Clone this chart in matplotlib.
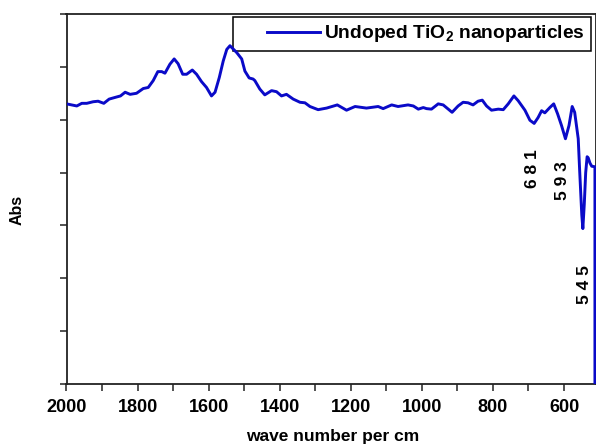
import matplotlib
matplotlib.use("Agg")
import matplotlib.pyplot as plt
from matplotlib.ticker import MultipleLocator, NullFormatter
from matplotlib.legend_handler import HandlerLine2D

plt.rcParams['font.family'] = ['Liberation Sans', 'DejaVu Sans']
plt.rcParams['font.weight'] = 'bold'
plt.rcParams['mathtext.fontset'] = 'custom'
plt.rcParams['mathtext.rm'] = 'Liberation Sans:bold'
plt.rcParams['mathtext.bf'] = 'Liberation Sans:bold'

# FTIR spectrum (wave number per cm, Abs in tick units)
wavenumber = [2000, 1971, 1957, 1943, 1925, 1911, 1895, 1880, 1859, 1848, 1835, 1821,
              1803, 1784, 1770, 1756, 1743, 1732, 1723, 1709, 1697, 1686, 1673, 1662,
              1646, 1634, 1620, 1606, 1592, 1582, 1570, 1559, 1549, 1540, 1521, 1507,
              1498, 1486, 1475, 1470, 1456, 1442, 1423, 1409, 1395, 1381, 1362, 1343,
              1329, 1315, 1292, 1268, 1238, 1212, 1188, 1156, 1123, 1109, 1085, 1067,
              1039, 1024, 1010, 996, 987, 973, 954, 940, 915, 898, 884, 870, 856, 842,
              830, 818, 804, 785, 771, 757, 741, 729, 710, 696, 684, 673, 663, 654,
              640, 629, 618, 607, 596, 586, 577, 570, 560, 556, 550, 547, 543, 539,
              535, 532, 527, 522, 513, 513]
absorb = [5.30, 5.26, 5.31, 5.31, 5.34, 5.35, 5.31, 5.39, 5.43, 5.45, 5.52, 5.48,
          5.50, 5.59, 5.61, 5.74, 5.91, 5.91, 5.88, 6.05, 6.15, 6.06, 5.86, 5.86,
          5.94, 5.86, 5.72, 5.61, 5.45, 5.52, 5.80, 6.11, 6.33, 6.40, 6.27, 6.15,
          5.92, 5.79, 5.77, 5.74, 5.58, 5.47, 5.55, 5.53, 5.45, 5.48, 5.39, 5.33,
          5.32, 5.25, 5.19, 5.22, 5.28, 5.18, 5.25, 5.22, 5.25, 5.21, 5.28, 5.25,
          5.28, 5.26, 5.20, 5.23, 5.21, 5.20, 5.30, 5.28, 5.14, 5.26, 5.33, 5.32, 5.28, 5.35,
          5.37, 5.26, 5.18, 5.20, 5.19, 5.30, 5.45, 5.36, 5.18, 4.99, 4.93, 5.04, 5.17, 5.13,
          5.23, 5.30, 5.11, 4.89, 4.64, 4.89, 5.25, 5.14, 4.64, 4.04, 3.20, 2.94, 3.40, 4.00,
          4.30, 4.28, 4.18, 4.12, 4.11, -1.0]

peak_labels = ['6 8 1', '5 9 3', '5 4 5']
peak_pos = [(690, 4.08), (604, 3.85), (541, 1.89)]

fig = plt.figure(figsize=(5.96, 4.44), dpi=100)
ax = fig.add_axes([66.5 / 596, 60 / 444, 529.5 / 596, 370 / 444])

line, = ax.plot(wavenumber, absorb, color='#0a0ac8', lw=2.1, zorder=6,
                solid_joinstyle='round', label=r'Undoped TiO$_{2}$ nanoparticles')

ax.set_xlim(2000, 510)
ax.set_ylim(0, 7)
ax.xaxis.set_major_locator(MultipleLocator(200))
ax.xaxis.set_minor_locator(MultipleLocator(100))
ax.yaxis.set_major_locator(MultipleLocator(1))
ax.yaxis.set_major_formatter(NullFormatter())
ax.tick_params(axis='both', which='both', direction='out', length=5, width=1.1,
               color='#222222')
ax.tick_params(axis='x', labelsize=13, pad=6)
for lab in ax.get_xticklabels():
    lab.set_fontweight('bold')
for s in ax.spines.values():
    s.set_linewidth(1.3)
    s.set_color('#222222')

for txt, (x, y) in zip(peak_labels, peak_pos):
    ax.text(x, y, txt, rotation=90, ha='center', va='center', fontsize=12.5,
            fontweight='bold')

leg = ax.legend(loc='upper right', bbox_to_anchor=(0.9906, 0.992), borderaxespad=0,
                fontsize=13.9, handlelength=4.2, handletextpad=0.2, borderpad=0.33,
                fancybox=False, framealpha=1, edgecolor='black',
                handler_map={line: HandlerLine2D(xpad=1.45)})
leg.get_frame().set_linewidth(1.1)
leg.set_zorder(5)
for t in leg.get_texts():
    t.set_fontweight('bold')

fig.text(333 / 596, 1 - 436 / 444, 'wave number per cm', ha='center', va='center',
         fontsize=12.5, fontweight='bold')
fig.text(17 / 596, 1 - 210 / 444, 'Abs', rotation=90, ha='center', va='center',
         fontsize=11.5, fontweight='bold')

fig.savefig('out.png', dpi=100)
